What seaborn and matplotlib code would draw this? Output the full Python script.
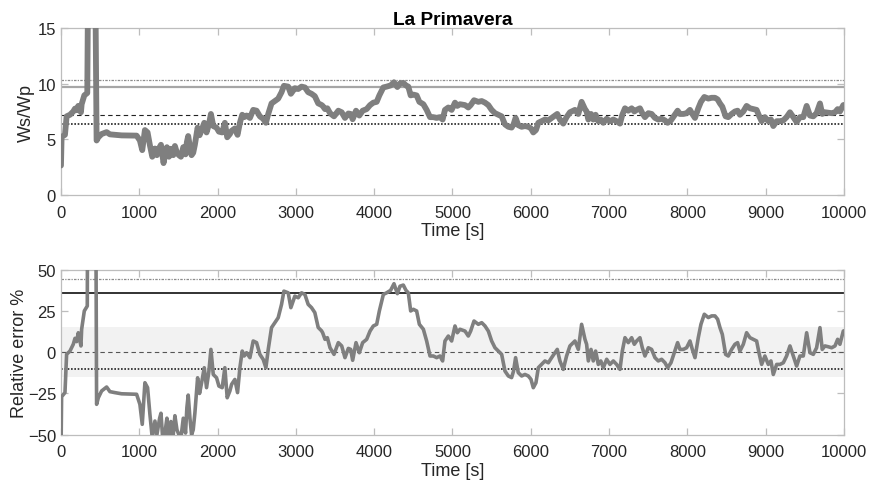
import numpy as np
import pandas as pd
import matplotlib
matplotlib.use("Agg")
import matplotlib.pyplot as plt
import seaborn as sns

# Time stamps [s] and relative error [%] of the wind-speed ratio
time_s = [0, 8, 51, 72, 115, 157, 179, 200, 221, 255, 264, 298, 336,
          345, 440, 455, 477, 519, 583, 625, 689, 774, 966, 1008, 1038, 1072, 1106, 1136,
          1166, 1200, 1225, 1260, 1277, 1293, 1310, 1336, 1353, 1379, 1404, 1434, 1455, 1481,
          1506, 1532, 1562, 1591, 1608, 1625, 1647, 1668, 1689, 1710, 1745, 1770, 1796, 1830,
          1859, 1889, 1915, 1945, 1987, 2017, 2059, 2093, 2123, 2157, 2179, 2221, 2255, 2285,
          2315, 2340, 2370, 2413, 2455, 2498, 2540, 2583, 2617, 2647, 2689, 2732, 2774, 2817,
          2847, 2902, 2936, 2987, 3030, 3072, 3115, 3157, 3200, 3242, 3285, 3327,
          3342, 3372, 3402, 3436, 3487, 3542, 3585, 3627, 3670, 3700, 3725, 3768, 3810, 3853,
          3904, 3947, 3989, 4032, 4066, 4117, 4159, 4210, 4253, 4296, 4330, 4372, 4406, 4436,
          4466, 4500, 4542, 4577, 4628, 4670, 4713, 4755, 4798, 4840, 4874, 4904, 4947, 4989,
          5032, 5062, 5096, 5160, 5202, 5232, 5275, 5330, 5373, 5415, 5458, 5500, 5543, 5585,
          5628, 5670, 5713, 5755, 5780, 5806, 5840, 5883, 5926, 5968, 6002, 6032, 6066, 6096,
          6138, 6181, 6224, 6266, 6309, 6338, 6372, 6415, 6457, 6500, 6564, 6607, 6649, 6692,
          6713, 6735, 6769, 6798, 6828, 6862, 6894, 6926, 6969, 7011, 7054, 7096, 7139, 7169,
          7203, 7245, 7288, 7322, 7352, 7394, 7424, 7458, 7501, 7543, 7586, 7628, 7671, 7714,
          7748, 7790, 7833, 7875, 7905, 7948, 7990, 8033, 8063, 8097, 8139, 8173, 8216, 8267,
          8310, 8352, 8386, 8416, 8446, 8488, 8522, 8565, 8607, 8641, 8671, 8714, 8756, 8799,
          8842, 8884, 8914, 8948, 8990, 9033, 9067, 9097, 9140, 9182, 9225, 9267, 9310, 9352,
          9395, 9437, 9480, 9523, 9565, 9608, 9650, 9693, 9722, 9757, 9800, 9842, 9885, 9919,
          9948, 9991, 10000]
rel_err = [-63, -27, -24.5, -1.3, 0.7, 4.8, 8.4, 6.4, 11.8, 3.8, 13.9, 25, 28,
           150, 150, -31.6, -27.6, -23.5, -21.1, -23.9, -24.5, -25.2, -25.5, -31.6, -43.7, -18.5, -21.5, -37.7,
           -52, -41.7, -50, -40, -37, -48, -60, -46, -40, -52, -42, -50, -38.5, -47,
           -50, -52, -40, -49, -33.6, -26, -40, -50, -47, -37, -15.5, -25, -18.5, -9.4,
           -21.5, -11.6, 1.7, -13.5, -15.5, -20.5, -21.5, -9.4, -27.6, -23.5, -19.5, -16.5, -24.5, -9.4,
           0.7, -2.3, -0.3, -3.3, 6.8, 5.8, -1.3, -4.4, -9.4, 1.7, 14.9, 17.9, 20.9, 29,
           37, 36, 27, 34, 33, 36, 35, 29, 27, 24, 15, 13,
           11.8, 7.8, 8.8, 2.7, -1.3, 5.8, 3.8, -3.3, 2.3, 1.7, -4.9, 5.8, -0.3, 5.8,
           7.8, 12.8, 15.9, 16.9, 25, 35, 36, 37.5, 41.5, 35.5, 40, 40.7, 37.5, 36,
           25, 26, 25, 16.9, 13.9, 6.8, -2.3, -2.3, -3.3, -2.3, -5.3, 6.8, 9.8, 6.8,
           15.9, 11.8, 13.9, 12.8, 9.8, 12.8, 18.9, 16.9, 17.9, 15.9, 12.8, 6.8, 2.7, 0.7,
           -1.3, -11.4, -14.4, -15.4, -11.4, -3.3, -12.4, -14.4, -13.5, -14.4, -16.4, -21.5, -18.5, -9.4,
           -7.4, -5.3, -6.4, -3.3, -0.3, 1.7, -5.3, -10.4, -2.3, 3.8, 6.8, 1.7, 16.9, 7.8,
           4.8, -5.3, 1.7, -5.3, 0.7, -7.4, -5.3, -9.4, -4.3, -7.4, -5.3, -7.4, -10.4, 0.7,
           8.8, 5.8, 8.8, 4.8, 6.8, 8.8, 2.7, -2.3, 2.7, 1.7, -3.3, -5.3, -4.3, -6.4,
           -9.4, -6.4, -0.3, 5.8, 1.7, 1.7, 2.7, 6.8, 1.7, -3.3, 8.8, 16.9, 23, 21,
           22, 22, 20, 14.9, 10.8, -1.3, -2.3, 1.7, 4.8, 5.8, 0.7, 4.8, 11.8, 8.8,
           7.8, 6.8, -0.3, -7.4, -2.3, -7.4, -5.3, -13.5, -7.4, -7.4, -6.4, -2.3, 3.8, -2.3,
           -8.4, -2.3, -2.3, 11.8, -0.3, -1.3, 2.7, 14.9, 1.7, 3.8, 3.3, 2.7, 3.8, 7.8,
           4.8, 12.8, 13]

# Reference levels on the Ws/Wp scale
ref_ratio = 7.17
upper_ratio = 10.35
limit_ratio = 9.75
lower_ratio = 6.42
band_pct = 15

df = pd.DataFrame({"time": time_s, "err": rel_err})
df["ratio"] = ref_ratio * (1 + df["err"] / 100)

def pct(r):
    return (r / ref_ratio - 1) * 100

sns.set_theme(style="ticks")
plt.rcParams["font.family"] = ["Liberation Sans", "DejaVu Sans"]
plt.rcParams["font.size"] = 12

fig = plt.figure(figsize=(8.71, 4.89), dpi=100)
ax1 = fig.add_axes([0.0700, 0.5992, 0.8990, 0.3409])
ax2 = fig.add_axes([0.0700, 0.1090, 0.8990, 0.3374])

line_gray = "#7f7f7f"
frame_gray = "#bdbdbd"
text_col = "#262626"
label_size = 13

# Upper panel: Ws/Wp
ax1.axhline(upper_ratio, color="#8c8c8c", lw=0.9, ls=(0, (2, 1, 1, 1)), zorder=1)
ax1.axhline(limit_ratio, color="#a6a6a6", lw=1.6, zorder=1)
ax1.axhline(ref_ratio, color="#222222", lw=0.8, ls=(0, (4, 3)), zorder=1)
ax1.axhline(lower_ratio, color="#222222", lw=1.2, ls=(0, (1, 1)), zorder=1)
sns.lineplot(data=df, x="time", y="ratio", ax=ax1, color=line_gray, lw=4.2,
             estimator=None, sort=False, zorder=3)
ax1.set_xlim(0, 10000)
ax1.set_ylim(0, 15)
ax1.set_yticks([0, 5, 10, 15])
ax1.set_xticks(np.arange(0, 10001, 1000))
ax1.set_xlabel("Time [s]", color=text_col, labelpad=2, fontsize=label_size)
ax1.set_ylabel("Ws/Wp", color=text_col, labelpad=2, fontsize=label_size)
ax1.set_title("La Primavera", fontweight="bold", fontsize=13.8, color="black", pad=3)

# Lower panel: relative error
ax2.axhspan(-band_pct, band_pct, color="#f2f2f2", lw=0, zorder=0)
ax2.axhline(pct(upper_ratio), color="#8c8c8c", lw=0.9, ls=(0, (2, 1, 1, 1)), zorder=1)
ax2.axhline(pct(limit_ratio), color="#222222", lw=1.3, zorder=1)
ax2.axhline(0, color="#555555", lw=0.8, ls=(0, (4, 3)), zorder=1)
ax2.axhline(pct(lower_ratio), color="#222222", lw=1.2, ls=(0, (1, 1)), zorder=1)
sns.lineplot(data=df, x="time", y="err", ax=ax2, color=line_gray, lw=2.6,
             estimator=None, sort=False, zorder=3)
ax2.set_xlim(0, 10000)
ax2.set_ylim(-50, 50)
ax2.set_yticks([-50, -25, 0, 25, 50])
ax2.set_xticks(np.arange(0, 10001, 1000))
ax2.set_xlabel("Time [s]", color=text_col, labelpad=2, fontsize=label_size)
ax2.set_ylabel("Relative error %", color=text_col, labelpad=0, fontsize=label_size)

for ax in (ax1, ax2):
    for s in ax.spines.values():
        s.set_color(frame_gray)
        s.set_linewidth(0.9)
    ax.tick_params(direction="in", length=5, width=0.9, color=frame_gray,
                   labelcolor=text_col, labelsize=12, top=True, right=True)
    ax.tick_params(axis="x", pad=7)
    ax.tick_params(axis="y", pad=3.5)

fig.savefig("out.png", dpi=100)
